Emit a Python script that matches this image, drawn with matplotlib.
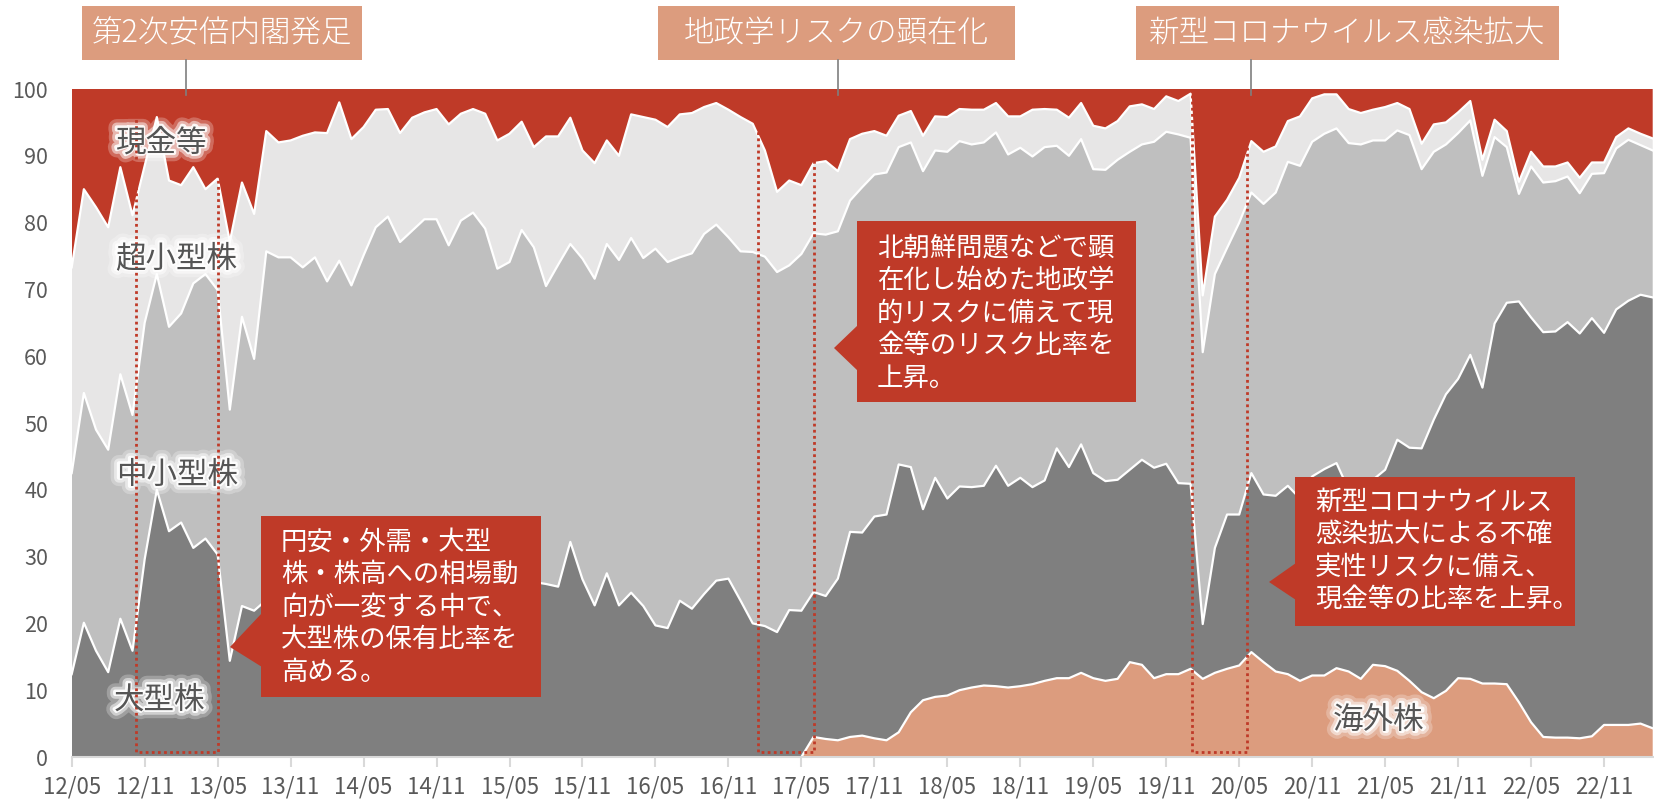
import matplotlib.pyplot as plt
import matplotlib.patheffects as pe
from matplotlib.patches import Rectangle, Polygon
from matplotlib.lines import Line2D
import numpy as np

plt.rcParams['font.family'] = ['Noto Sans CJK JP', 'DejaVu Sans']

# 月次 2012/05 - 2023/03、積み上げの境界（%）
# 下から 海外株 -> 大型株 -> 中小型株 -> 超小型株、残りが現金等
cum_overseas = [0.0] * 61 + [
    3.0, 2.7, 2.5, 3.0, 3.2, 2.8, 2.5, 3.7, 6.7, 8.5, 9.0,
    9.2, 10.0, 10.4, 10.7, 10.6, 10.4, 10.6, 10.9, 11.4, 11.8, 11.8, 12.6,
    11.8, 11.4, 11.7, 14.2, 13.8, 11.8, 12.4, 12.4, 13.2, 11.7, 12.6, 13.2,
    13.7, 15.7, 14.2, 12.8, 12.4, 11.4, 12.2, 12.2, 13.3, 12.8, 11.7, 13.8,
    13.6, 12.9, 11.4, 9.7, 8.8, 9.9, 11.8, 11.7, 11.0, 11.0, 10.9, 8.2,
    5.2, 3.0, 2.9, 2.9, 2.8, 3.1, 4.8, 4.8, 4.8, 5.0, 4.3]
cum_large = [
    12.4, 20.1, 15.9, 12.7, 20.7, 15.9, 29.6, 40.0, 33.8, 35.1, 31.3, 32.7,
    30.3, 14.4, 22.6, 21.9, 23.5, 22.0, 24.5, 23.0, 25.0, 24.0, 26.5, 25.0,
    23.5, 25.5, 27.0, 25.5, 26.0, 24.5, 26.5, 28.0, 26.0, 27.5, 25.5, 24.0,
    26.5, 25.0, 26.2, 25.9, 25.5, 32.2, 26.6, 22.7, 27.5, 22.7, 24.6, 22.6,
    19.7, 19.3, 23.4, 22.2, 24.4, 26.4, 26.7, 23.4, 20.0, 19.6, 18.7, 22.0,
    21.9, 24.7, 24.1, 26.7, 33.7, 33.6, 36.0, 36.3, 43.8, 43.4, 37.1, 41.8,
    38.7, 40.5, 40.4, 40.6, 43.6, 40.6, 41.8, 40.4, 41.4, 46.2, 43.4, 46.8,
    42.5, 41.3, 41.5, 43.0, 44.5, 43.3, 43.9, 41.0, 40.9, 19.9, 31.3, 36.3,
    36.3, 42.5, 39.3, 39.1, 40.6, 38.7, 42.0, 43.1, 44.0, 40.0, 40.5, 41.5,
    43.0, 47.5, 46.3, 46.2, 50.5, 54.3, 56.6, 60.2, 55.3, 64.9, 68.0, 68.2,
    65.8, 63.6, 63.7, 65.1, 63.4, 65.7, 63.5, 67.0, 68.3, 69.2, 68.8]
cum_mid = [
    42.5, 54.5, 49.0, 46.0, 57.3, 51.2, 65.0, 72.3, 64.4, 66.4, 70.9, 72.3,
    69.9, 52.0, 65.9, 59.6, 75.7, 74.8, 74.8, 73.3, 74.8, 71.2, 74.3, 70.6,
    75.1, 79.3, 80.9, 77.1, 78.8, 80.5, 80.5, 76.6, 80.3, 81.5, 79.1, 73.1,
    74.1, 78.9, 76.3, 70.5, 73.7, 76.8, 74.6, 71.6, 76.8, 74.4, 77.7, 74.7,
    76.1, 74.1, 74.8, 75.4, 78.3, 79.7, 77.8, 75.7, 75.6, 74.9, 72.6, 73.6,
    75.3, 78.4, 78.2, 78.7, 83.3, 85.3, 87.2, 87.5, 91.3, 92.0, 87.7, 90.8,
    90.6, 92.2, 91.7, 92.0, 93.5, 90.2, 91.2, 89.9, 91.3, 91.5, 90.0, 92.5,
    88.0, 87.9, 89.4, 90.6, 91.7, 92.1, 93.6, 93.2, 92.7, 60.6, 72.3, 76.2,
    80.0, 84.5, 82.8, 84.5, 89.1, 88.5, 92.1, 93.3, 94.1, 91.9, 91.7, 92.3,
    92.3, 93.8, 93.1, 88.0, 90.6, 91.7, 93.4, 95.3, 87.0, 92.8, 91.3, 84.3,
    88.4, 86.0, 86.2, 86.9, 84.4, 87.3, 87.4, 91.1, 92.4, 91.6, 90.8]
cum_micro = [
    73.3, 85.0, 82.3, 79.3, 88.3, 81.1, 88.5, 95.8, 86.3, 85.6, 88.3, 85.0,
    86.6, 77.1, 86.0, 81.3, 93.7, 92.0, 92.3, 93.0, 93.5, 93.4, 98.0, 92.5,
    94.3, 96.9, 97.0, 93.4, 95.7, 96.5, 97.0, 94.7, 96.3, 97.0, 96.3, 92.3,
    93.3, 95.1, 91.3, 92.9, 92.9, 95.7, 90.8, 88.9, 92.3, 90.0, 96.2, 95.8,
    95.4, 94.3, 96.2, 96.4, 97.3, 97.9, 96.9, 95.8, 94.8, 90.8, 84.6, 86.3,
    85.6, 88.9, 89.2, 87.7, 92.5, 93.3, 93.7, 93.0, 96.0, 96.7, 93.0, 95.9,
    95.8, 97.0, 96.9, 96.9, 97.9, 95.9, 95.9, 96.9, 97.0, 96.9, 95.7, 97.9,
    94.5, 94.1, 95.2, 97.4, 97.7, 97.0, 98.9, 98.2, 99.3, 69.1, 80.9, 83.4,
    86.7, 92.2, 90.6, 91.4, 95.2, 95.9, 98.6, 99.2, 99.2, 97.0, 96.4, 96.9,
    97.3, 97.9, 97.0, 91.8, 94.7, 95.0, 96.5, 98.2, 89.4, 95.4, 93.7, 86.1,
    90.6, 88.4, 88.4, 89.0, 86.7, 89.0, 89.0, 92.8, 94.1, 93.3, 92.6]

series_names = ['海外株', '大型株', '中小型株', '超小型株', '現金等']
series_colors = ['#DC9C7E', '#7F7F7F', '#BFBFBF', '#E7E6E6', '#BF3A28']

x_labels = ['12/05', '12/11', '13/05', '13/11', '14/05', '14/11', '15/05',
            '15/11', '16/05', '16/11', '17/05', '17/11', '18/05', '18/11',
            '19/05', '19/11', '20/05', '20/11', '21/05', '21/11', '22/05',
            '22/11']

events = ['第2次安倍内閣発足', '地政学リスクの顕在化', '新型コロナウイルス感染拡大']
notes = [
    ['円安・外需・大型', '株・株高への相場動', '向が一変する中で、',
     '大型株の保有比率を', '高める。'],
    ['北朝鮮問題などで顕', '在化し始めた地政学', '的リスクに備えて現',
     '金等のリスク比率を', '上昇。'],
    ['新型コロナウイルス', '感染拡大による不確', '実性リスクに備え、',
     '現金等の比率を上昇。'],
]
# 点線で囲んだ期間（月のインデックス）
periods = [(5.26, 12.0), (56.45, 61.0), (92.1, 96.6)]

# ---- figure ----
W, H = 1654, 802
RED = '#BF3A28'
SALMON = '#DC9C7E'
GREY_TXT = '#595959'


def fx(px):
    return px / W


def fy(py):
    return 1 - py / H


fig = plt.figure(figsize=(W / 100, H / 100), dpi=100)
ax = fig.add_axes([fx(71.7), fy(757), (1652.7 - 71.7) / W, (757 - 89) / H])

n = len(cum_micro)
x = np.arange(n)
bounds = np.vstack([np.zeros(n), cum_overseas, cum_large, cum_mid, cum_micro,
                    np.full(n, 100.0)])
shares = np.diff(bounds, axis=0)

ax.stackplot(x, shares, colors=series_colors, labels=series_names, linewidth=0)
for line in (cum_large, cum_mid, cum_micro):
    ax.plot(x, line, color='white', lw=1.6, zorder=3)
ax.plot(x[60:], cum_overseas[60:], color='white', lw=1.6, zorder=3)

ax.set_xlim(0, n - 1)
ax.set_ylim(0, 100)
for s in ('top', 'right', 'left'):
    ax.spines[s].set_visible(False)
ax.spines['bottom'].set_color('#D9D9D9')
ax.spines['bottom'].set_linewidth(1.5)
ax.spines['bottom'].set_zorder(4)

ax.set_xticks(np.arange(0, 6 * len(x_labels), 6))
ax.set_xticklabels(x_labels)
ax.set_yticks(np.arange(0, 101, 10))
ax.tick_params(axis='x', length=7, width=1.5, color='#D9D9D9', labelsize=16,
               labelcolor=GREY_TXT, pad=6)
ax.tick_params(axis='y', length=0, labelsize=15.5, labelcolor=GREY_TXT, pad=17)

# series labels: glow inside the axes (below the dotted boxes), text on top
glow = [pe.withStroke(linewidth=12, foreground='white', alpha=0.25),
        pe.withStroke(linewidth=7, foreground='white', alpha=0.5),
        pe.withStroke(linewidth=3, foreground='white', alpha=0.9)]
label_pos = [('現金等', 161, 143), ('超小型株', 176, 259), ('中小型株', 177, 475),
             ('大型株', 159, 700), ('海外株', 1379, 720)]
for text, px, py in label_pos:
    ax.text(fx(px), fy(py), text, color='white', fontsize=22, ha='center',
            va='center', path_effects=glow, zorder=4.5,
            transform=fig.transFigure)
    fig.text(fx(px), fy(py), text, color='#555555', fontsize=22, ha='center',
             va='center', zorder=9)

# dotted boxes (upper part disappears in the red area)
for x0, x1 in periods:
    ax.plot([x0, x0, x1, x1], [100, 0.7, 0.7, 100], color=RED, lw=2,
            linestyle=(0, (1, 1.2)), zorder=5, clip_on=False)

# event boxes on top
event_boxes = [(82, 362, 186), (658, 1015, 838), (1136, 1559, 1251)]
for text, (x0, x1, xc) in zip(events, event_boxes):
    fig.add_artist(Rectangle((fx(x0), fy(60)), (x1 - x0) / W, 54 / H,
                             transform=fig.transFigure, color=SALMON, lw=0))
    fig.text(fx((x0 + x1) / 2), fy(33), text, color='white', fontsize=22,
             ha='center', va='center', fontweight='light')
    fig.add_artist(Line2D([fx(xc), fx(xc)], [fy(60), fy(95)],
                          transform=fig.transFigure, color='#7F7F7F', lw=1.2,
                          zorder=6))

# callouts
callouts = [
    # box x0, y0, x1, y1, tip x, tip y, base top, base bottom, first line y
    (261, 516, 541, 697, 230, 647, 613, 667, 542),
    (857, 221, 1136, 402, 834, 348, 325, 371, 248),
    (1295, 477, 1575, 626, 1269, 582, 563, 600, 502),
]
for lines, (x0, y0, x1, y1, tx, ty, b0, b1, ly) in zip(notes, callouts):
    fig.add_artist(Rectangle((fx(x0), fy(y1)), (x1 - x0) / W, (y1 - y0) / H,
                             transform=fig.transFigure, color=RED, lw=0,
                             zorder=7))
    fig.add_artist(Polygon([(fx(tx), fy(ty)), (fx(x0 + 1), fy(b0)),
                            (fx(x0 + 1), fy(b1))],
                           transform=fig.transFigure, color=RED, lw=0,
                           zorder=7))
    for k, t in enumerate(lines):
        fig.text(fx(x0 + 20), fy(ly + 32.5 * k), t, color='white',
                 fontsize=19, ha='left', va='center', zorder=8)

fig.savefig('out.png', dpi=100)
